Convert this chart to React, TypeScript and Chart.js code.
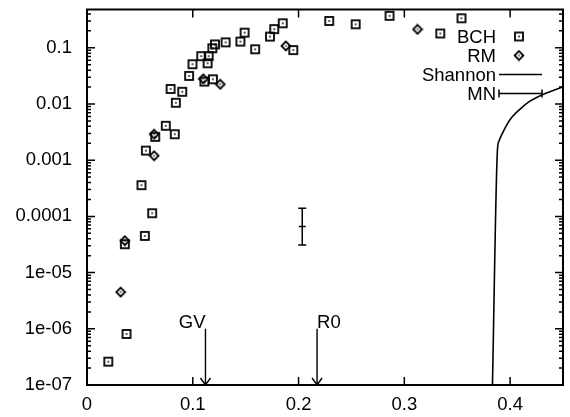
import React, { useEffect, useRef } from 'react';
import { Chart, registerables } from 'chart.js';
Chart.register(...registerables);

// ---- data ----
const bchX = [0.0201, 0.0374, 0.0358, 0.0547, 0.0616, 0.0515, 0.0557, 0.0645, 0.0745, 0.083, 0.079, 0.090, 0.084, 0.0965, 0.0997, 0.108, 0.115, 0.114, 0.1185, 0.121, 0.111, 0.119, 0.131, 0.145, 0.149, 0.159, 0.173, 0.177, 0.185, 0.195, 0.229, 0.254, 0.286, 0.334, 0.354];
const bchY = [2.6e-7, 8.1e-7, 3.2e-5, 4.5e-5, 1.14e-4, 3.6e-4, 1.48e-3, 2.6e-3, 4.1e-3, 2.9e-3, 0.0185, 0.0165, 0.0105, 0.0316, 0.051, 0.071, 0.071, 0.053, 0.098, 0.115, 0.025, 0.0275, 0.125, 0.129, 0.186, 0.094, 0.158, 0.215, 0.273, 0.091, 0.30, 0.262, 0.37, 0.18, 0.335];
const rmX = [0.0318, 0.0358, 0.0635, 0.0635, 0.110, 0.126, 0.188, 0.3125];
const rmY = [4.5e-6, 3.7e-5, 1.2e-3, 2.9e-3, 0.028, 0.0224, 0.108, 0.213];
const shannonX = [0.3833, 0.388, 0.3895, 0.3927, 0.397, 0.402, 0.41, 0.418, 0.426, 0.4337, 0.442, 0.449, 0.45];
const shannonY = [1e-7, 1.5e-3, 2.2e-3, 3.0e-3, 4.3e-3, 5.9e-3, 8.3e-3, 0.011, 0.0133, 0.0155, 0.0178, 0.0199, 0.0202];
const mnX = [0.2035];
const mnY = [6.6e-5];
const mnLow = [3.1e-5];
const mnHigh = [1.4e-4];
const arrowLabels = ['GV', 'R0'];
const arrowX = [0.112, 0.2175];
const arrowTop = 1e-6;
const xTicks = [0, 0.1, 0.2, 0.3, 0.4];
const xTickLabels = ['0', '0.1', '0.2', '0.3', '0.4'];
const yTicks = [1e-7, 1e-6, 1e-5, 1e-4, 1e-3, 1e-2, 1e-1];
const yTickLabels = ['1e-07', '1e-06', '1e-05', '0.0001', '0.001', '0.01', '0.1'];
const X_MIN = 0;
const X_MAX = 0.45;
const Y_MIN = 1e-7;
const Y_MAX = 0.48;

const FONT = '"Liberation Sans", Arial, Helvetica, sans-serif';
const FONT_SIZE = 18.5;

function makeSquare(): HTMLCanvasElement {
  const c = document.createElement('canvas');
  c.width = 12; c.height = 12;
  const g = c.getContext('2d')!;
  g.strokeStyle = '#000';
  g.lineWidth = 1.8;
  g.strokeRect(2, 2, 8, 8);
  g.fillStyle = '#000';
  g.fillRect(5.2, 5.2, 1.6, 1.6);
  return c;
}
function makeDiamond(): HTMLCanvasElement {
  const c = document.createElement('canvas');
  c.width = 12; c.height = 12;
  const g = c.getContext('2d')!;
  g.strokeStyle = '#000';
  g.lineWidth = 1.8;
  g.beginPath();
  g.moveTo(6, 1.6); g.lineTo(10.4, 6); g.lineTo(6, 10.4); g.lineTo(1.6, 6); g.closePath();
  g.stroke();
  g.fillStyle = '#000';
  g.fillRect(5.3, 5.3, 1.4, 1.4);
  return c;
}

const framePlugin = {
  id: 'frame',
  afterDatasetsDraw(chart: any) {
    const { ctx, chartArea: a, scales } = chart;
    const xs = scales.x, ys = scales.y;
    ctx.save();
    ctx.strokeStyle = '#000';
    ctx.fillStyle = '#000';
    // ticks
    ctx.lineWidth = 1.5;
    ctx.beginPath();
    yTicks.forEach((d) => {
      for (let m = 1; m <= 9; m++) {
        const v = d * m;
        if (v > Y_MAX || v < Y_MIN) continue;
        const py = ys.getPixelForValue(v);
        const len = m === 1 ? 8 : 4;
        ctx.moveTo(a.left, py); ctx.lineTo(a.left + len, py);
        ctx.moveTo(a.right, py); ctx.lineTo(a.right - len, py);
      }
    });
    xTicks.forEach((v) => {
      const px = xs.getPixelForValue(v);
      ctx.moveTo(px, a.bottom); ctx.lineTo(px, a.bottom - 8);
      ctx.moveTo(px, a.top); ctx.lineTo(px, a.top + 8);
    });
    ctx.stroke();
    // border
    ctx.lineWidth = 2;
    ctx.strokeRect(a.left, a.top, a.right - a.left, a.bottom - a.top);

    // MN error bars
    ctx.lineWidth = 1.5;
    ctx.beginPath();
    mnX.forEach((x, i) => {
      const px = xs.getPixelForValue(x);
      const pLo = ys.getPixelForValue(mnLow[i]);
      const pHi = ys.getPixelForValue(mnHigh[i]);
      ctx.moveTo(px, pLo); ctx.lineTo(px, pHi);
      ctx.moveTo(px - 4, pLo); ctx.lineTo(px + 4, pLo);
      ctx.moveTo(px - 4, pHi); ctx.lineTo(px + 4, pHi);
    });
    ctx.stroke();

    // arrows
    ctx.font = `${FONT_SIZE}px ${FONT}`;
    ctx.lineWidth = 1.4;
    arrowX.forEach((x, i) => {
      const px = xs.getPixelForValue(x);
      const top = ys.getPixelForValue(arrowTop);
      const tip = ys.getPixelForValue(Y_MIN);
      ctx.beginPath();
      ctx.moveTo(px, top); ctx.lineTo(px, tip);
      ctx.moveTo(px - 5, tip - 7); ctx.lineTo(px, tip); ctx.lineTo(px + 5, tip - 7);
      ctx.stroke();
      ctx.textBaseline = 'alphabetic';
      if (i === 0) { ctx.textAlign = 'right'; ctx.fillText(arrowLabels[i], px, top - 1); }
      else { ctx.textAlign = 'left'; ctx.fillText(arrowLabels[i], px, top - 1); }
    });

    // legend
    const textRight = a.right - 67;
    const sampleX = a.right - 44;
    const lineL = a.right - 64;
    const lineR = a.right - 21;
    const rowY0 = a.top + 27;
    const rowH = 19;
    ctx.textAlign = 'right';
    ctx.textBaseline = 'middle';
    chart.data.datasets.forEach((ds: any, i: number) => {
      const y = rowY0 + i * rowH;
      ctx.fillText(ds.label, textRight, y + 1);
      if (ds.pointStyle instanceof HTMLCanvasElement) {
        const img = ds.pointStyle as HTMLCanvasElement;
        ctx.drawImage(img, sampleX - img.width / 2, y - img.height / 2);
      } else if (ds.label === 'Shannon') {
        ctx.lineWidth = 1.5;
        ctx.beginPath(); ctx.moveTo(lineL, y); ctx.lineTo(lineR, y); ctx.stroke();
      } else {
        ctx.lineWidth = 1.5;
        ctx.beginPath();
        ctx.moveTo(lineL, y); ctx.lineTo(lineR, y);
        ctx.moveTo(lineL, y - 4); ctx.lineTo(lineL, y + 4);
        ctx.moveTo(lineR, y - 4); ctx.lineTo(lineR, y + 4);
        ctx.stroke();
      }
    });
    ctx.restore();
  },
};

export default function App() {
  const ref = useRef<HTMLCanvasElement | null>(null);
  useEffect(() => {
    if (!ref.current) return;
    const sq = makeSquare();
    const di = makeDiamond();
    const chart = new Chart(ref.current, {
      type: 'scatter',
      data: {
        datasets: [
          {
            label: 'BCH',
            data: bchX.map((x, i) => ({ x, y: bchY[i] })),
            pointStyle: sq as any,
            pointRadius: 6,
            showLine: false,
          },
          {
            label: 'RM',
            data: rmX.map((x, i) => ({ x, y: rmY[i] })),
            pointStyle: di as any,
            pointRadius: 6,
            showLine: false,
          },
          {
            label: 'Shannon',
            data: shannonX.map((x, i) => ({ x, y: shannonY[i] })),
            showLine: true,
            pointRadius: 0,
            borderColor: '#000',
            borderWidth: 1.6,
            cubicInterpolationMode: 'monotone',
          } as any,
          {
            label: 'MN',
            data: mnX.map((x, i) => ({ x, y: mnY[i] })),
            pointStyle: 'line',
            pointRadius: 3.5,
            borderColor: '#000',
            borderWidth: 1.5,
            showLine: false,
          },
        ],
      },
      options: {
        responsive: false,
        animation: false,
        layout: { padding: { top: 9.5, right: 6, left: 0, bottom: 0 } },
        plugins: { legend: { display: false }, tooltip: { enabled: false } },
        scales: {
          x: {
            type: 'linear',
            min: X_MIN,
            max: X_MAX,
            grid: { display: false, drawTicks: false },
            border: { display: false },
            afterBuildTicks: (s: any) => { s.ticks = xTicks.map((v) => ({ value: v })); },
            afterFit: (s: any) => { s.height = 32; s.paddingLeft = 0; s.paddingRight = 0; },
            ticks: {
              color: '#000',
              padding: 9,
              maxRotation: 0,
              autoSkip: false,
              font: { family: FONT, size: FONT_SIZE },
              callback: (v: any) => {
                const i = xTicks.findIndex((t) => Math.abs(t - Number(v)) < 1e-9);
                return i >= 0 ? xTickLabels[i] : '';
              },
            },
          },
          y: {
            type: 'logarithmic',
            min: Y_MIN,
            max: Y_MAX,
            grid: { display: false, drawTicks: false },
            border: { display: false },
            afterBuildTicks: (s: any) => { s.ticks = yTicks.map((v) => ({ value: v })); },
            afterFit: (s: any) => { s.width = 87; s.paddingTop = 0; s.paddingBottom = 0; },
            ticks: {
              color: '#000',
              padding: 15,
              autoSkip: false,
              font: { family: FONT, size: FONT_SIZE },
              callback: (v: any) => {
                const i = yTicks.findIndex((t) => Math.abs(t - Number(v)) / t < 1e-6);
                return i >= 0 ? yTickLabels[i] : '';
              },
            },
          },
        },
      },
      plugins: [framePlugin],
    });
    return () => chart.destroy();
  }, []);
  return (
    <div style={{ position: 'absolute', left: 0, top: 0, width: 570, height: 417, background: '#fff' }}>
      <canvas ref={ref} width={570} height={417} />
    </div>
  );
}
